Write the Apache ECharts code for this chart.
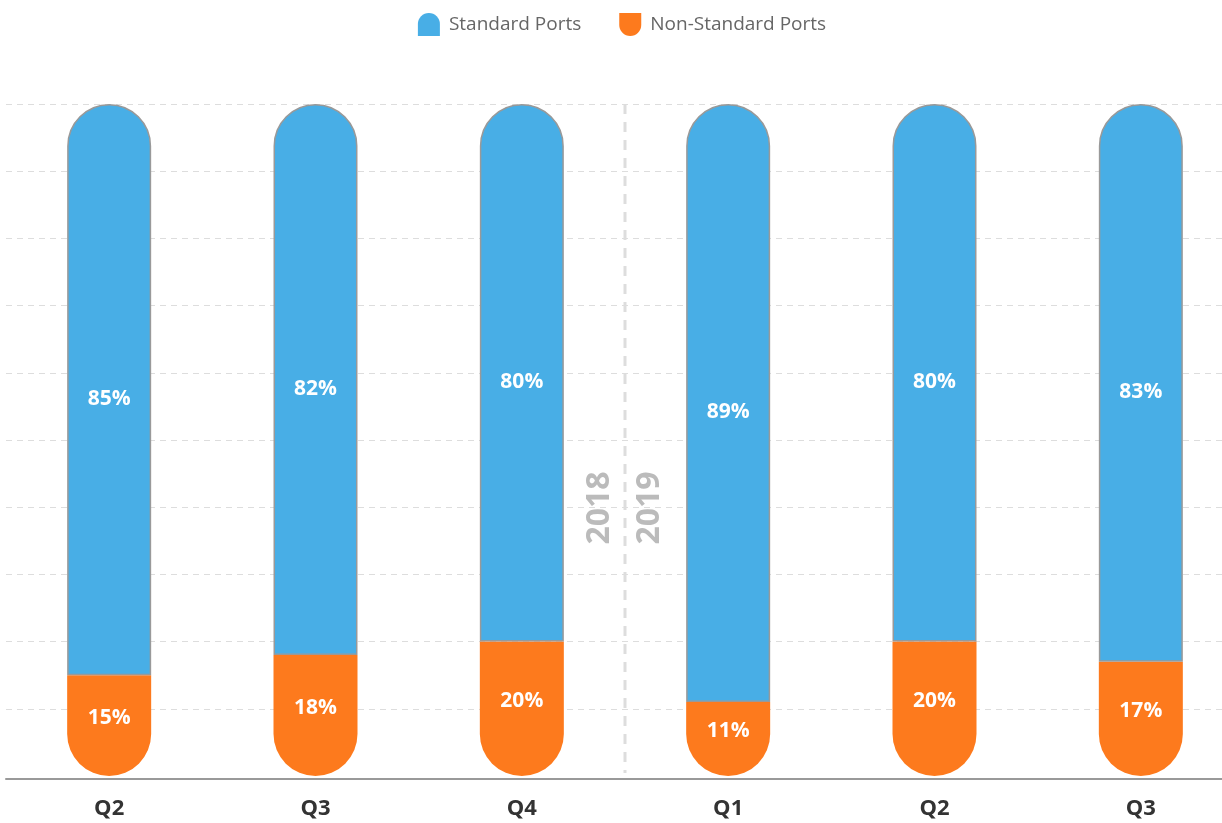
<!DOCTYPE html>
<html>
<head>
<meta charset="utf-8">
<script src="https://cdn.jsdelivr.net/npm/echarts@6/dist/echarts.min.js"></script>
<style>
  html, body { margin: 0; padding: 0; background: #fff; overflow: hidden; }
  #chart { width: 1244px; height: 823px; }
</style>
</head>
<body>
<div id="chart"></div>
<script>
const years = ['2018', '2018', '2018', '2019', '2019', '2019']
const quarters = ['Q2', 'Q3', 'Q4', 'Q1', 'Q2', 'Q3']
const standardPorts = [85, 82, 80, 89, 80, 83]
const nonStandardPorts = [15, 18, 20, 11, 20, 17]
const yearLabels = ['2018', '2019']

const categories = quarters.map((q, i) => years[i] + ' ' + q)
const FONT = '"Open Sans", Lato, sans-serif'

const chart = echarts.init(document.getElementById('chart'))

const barLabel = (offset) => ({
  show: true,
  position: 'inside',
  offset: offset,
  formatter: '{c}%',
  color: '#fff',
  fontSize: 21,
  fontWeight: 'bold',
  fontFamily: FONT
})

const option = {
  animation: false,
  legend: {
    top: 8,
    left: 'center',
    itemWidth: 22,
    itemHeight: 23,
    itemGap: 38,
    itemStyle: { borderWidth: 0 },
    textStyle: { color: '#666', fontSize: 19, fontFamily: FONT, padding: [0, 0, 0, 4] },
    data: [
      { name: 'Standard Ports', icon: 'path://M0,11 A11,11 0 0 1 22,11 L22,23 L0,23 Z' },
      { name: 'Non-Standard Ports', icon: 'path://M0,0 L22,0 L22,12 A11,11 0 0 1 0,12 Z' }
    ]
  },
  grid: { left: 6, right: 0, top: 104, bottom: 47 },
  xAxis: {
    type: 'category',
    data: categories,
    offset: 3,
    axisTick: { show: false },
    axisLine: { onZero: false, lineStyle: { color: '#999', width: 2 } },
    axisLabel: {
      formatter: v => v.split(' ')[1],
      color: '#333',
      fontSize: 22,
      fontWeight: 'bold',
      fontFamily: FONT,
      margin: 19
    }
  },
  yAxis: {
    type: 'value',
    min: 0,
    max: 100,
    interval: 10,
    axisLabel: { show: false },
    axisLine: { show: false },
    axisTick: { show: false },
    splitLine: { showMinLine: false, lineStyle: { color: '#ddd', type: [6, 5], width: 1 } }
  },
  series: [
    {
      name: 'Non-Standard Ports',
      type: 'bar',
      stack: 'ports',
      barWidth: 84,
      data: nonStandardPorts,
      itemStyle: { color: '#fd7a1d', borderRadius: [0, 0, 42, 42] },
      label: barLabel([0, -8])
    },
    {
      name: 'Standard Ports',
      type: 'bar',
      stack: 'ports',
      barWidth: 84,
      data: standardPorts,
      itemStyle: { color: '#48aee6', borderColor: '#999', borderWidth: 1.5, borderRadius: [42, 42, 0, 0] },
      label: barLabel([0, 9])
    }
  ]
}
chart.setOption(option)

// year divider between the last 2018 and first 2019 quarter
const a = chart.convertToPixel({ xAxisIndex: 0, yAxisIndex: 0 }, [2, 0])
const b = chart.convertToPixel({ xAxisIndex: 0, yAxisIndex: 0 }, [3, 100])
const midX = (a[0] + b[0]) / 2
const midY = (a[1] + b[1]) / 2 + 68
const yearText = (txt, dx) => ({
  type: 'text',
  x: midX + dx,
  y: midY,
  rotation: Math.PI / 2,
  style: {
    text: txt, fill: '#bbb', fontSize: 32, fontWeight: 'bold',
    fontFamily: FONT, align: 'center', verticalAlign: 'middle'
  }
})
chart.setOption({
  graphic: [
    {
      type: 'line',
      z: 0,
      shape: { x1: midX, y1: b[1], x2: midX, y2: a[1] - 3 },
      style: { stroke: '#ddd', lineWidth: 3, lineDash: [10, 8] }
    },
    yearText(yearLabels[0], -25),
    yearText(yearLabels[1], 25)
  ]
})
</script>
</body>
</html>
